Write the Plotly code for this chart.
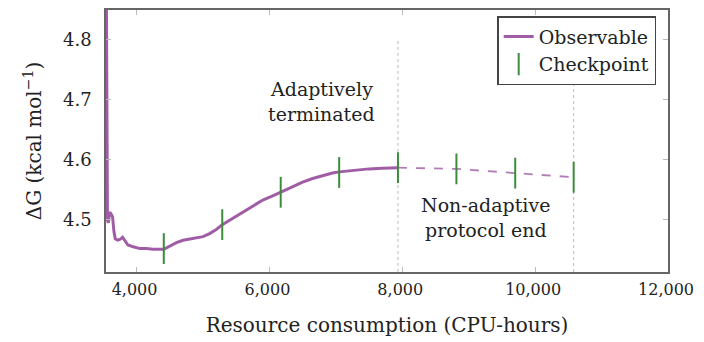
import plotly.graph_objects as go

# Observable (adaptive, solid part)
obs_x = [3545, 3556, 3562, 3575, 3594, 3615, 3639, 3660, 3680, 3720, 3760, 3790, 3830, 3870,
         3950, 4050, 4150, 4250, 4410, 4500, 4600, 4700, 4800, 4900, 5000, 5100, 5200, 5290,
         5450, 5600, 5750, 5900, 6050, 6170, 6350, 6500, 6650, 6800, 6950, 7050, 7300, 7500,
         7700, 7935]
obs_y = [4.90, 4.60, 4.50, 4.495, 4.513, 4.510, 4.505, 4.480, 4.468, 4.466, 4.468, 4.471,
         4.465, 4.458, 4.455, 4.452, 4.452, 4.451, 4.451, 4.456, 4.462, 4.466, 4.468, 4.470,
         4.472, 4.477, 4.484, 4.492, 4.503, 4.513, 4.523, 4.533, 4.540, 4.546, 4.555, 4.563,
         4.569, 4.574, 4.578, 4.580, 4.583, 4.585, 4.586, 4.587]

# Non-adaptive continuation (dashed)
ext_x = [7935, 8815, 9700, 10580]
ext_y = [4.587, 4.585, 4.578, 4.571]

# Checkpoints
chk_x = [4410, 5290, 6170, 7050, 7935, 8815, 9700, 10580]
chk_y = [4.452, 4.492, 4.546, 4.579, 4.587, 4.585, 4.578, 4.571]

terminated_x = 7935
protocol_end_x = 10580

x_ticks = [4000, 6000, 8000, 10000, 12000]
y_ticks = [4.5, 4.6, 4.7, 4.8]

note_lines_1 = ["Adaptively", "terminated"]
note_lines_2 = ["Non-adaptive", "protocol end"]

PURPLE = "#A05DA5"
GREEN = "#3C8C3C"
FONT = "DejaVu Serif"
TXT = "#222222"

fig = go.Figure()
fig.add_trace(go.Scatter(x=obs_x, y=obs_y, mode="lines", name="Observable",
                         line=dict(color=PURPLE, width=3)))
fig.add_trace(go.Scatter(x=ext_x, y=ext_y, mode="lines", showlegend=False,
                         line=dict(color=PURPLE, width=1.8, dash="dash"), opacity=0.8))
fig.add_trace(go.Scatter(x=chk_x, y=chk_y, mode="markers", name="Checkpoint",
                         marker=dict(symbol="line-ns", size=22,
                                     line=dict(color=GREEN, width=2))))

for xv in [terminated_x, protocol_end_x]:
    fig.add_shape(type="line", x0=xv, x1=xv, y0=4.413, y1=4.8, xref="x", yref="y",
                  line=dict(color="#BBBBBB", width=1, dash="dot"), layer="below")

# text notes, one annotation per line for tighter line spacing
for i, t in enumerate(note_lines_1):
    fig.add_annotation(x=6780, y=4.718 - i * 0.042, text=t, showarrow=False,
                       font=dict(family=FONT, size=19, color=TXT))
for i, t in enumerate(note_lines_2):
    fig.add_annotation(x=9260, y=4.525 - i * 0.042, text=t, showarrow=False,
                       font=dict(family=FONT, size=19, color=TXT))

axis_common = dict(showline=True, linecolor="#666", linewidth=1.5, mirror="allticks",
                   ticks="inside", ticklen=5, tickcolor="#BBBBBB", showgrid=False,
                   zeroline=False)

fig.update_xaxes(range=[3540, 12000], tickvals=x_ticks, tickformat=",d",
                 ticklabelstandoff=2, ticklabelshift=-2,
                 tickfont=dict(family=FONT, size=16, color=TXT),
                 title=dict(text="Resource consumption (CPU-hours)",
                            font=dict(family=FONT, size=20, color=TXT), standoff=20),
                 **axis_common)
fig.update_yaxes(range=[4.413, 4.85], tickvals=y_ticks, tickformat=".1f",
                 ticklabelstandoff=9, tickfont=dict(family=FONT, size=18, color=TXT),
                 title=dict(text="ΔG (kcal mol<sup>−1</sup>)",
                            font=dict(family=FONT, size=20, color=TXT), standoff=16),
                 **axis_common)

# page body has an 8px default margin, so the figure is sized to fit the 704x342 window
fig.update_layout(
    width=696, height=334,
    margin=dict(l=98, r=36, t=2, b=70, autoexpand=False),
    plot_bgcolor="white", paper_bgcolor="white",
    font=dict(family=FONT, size=18, color=TXT),
    legend=dict(x=0.979, y=0.977, xanchor="right", yanchor="top",
                bgcolor="white", bordercolor="#444", borderwidth=1.5,
                font=dict(family=FONT, size=19, color=TXT)),
)

fig.write_html("out.html")
